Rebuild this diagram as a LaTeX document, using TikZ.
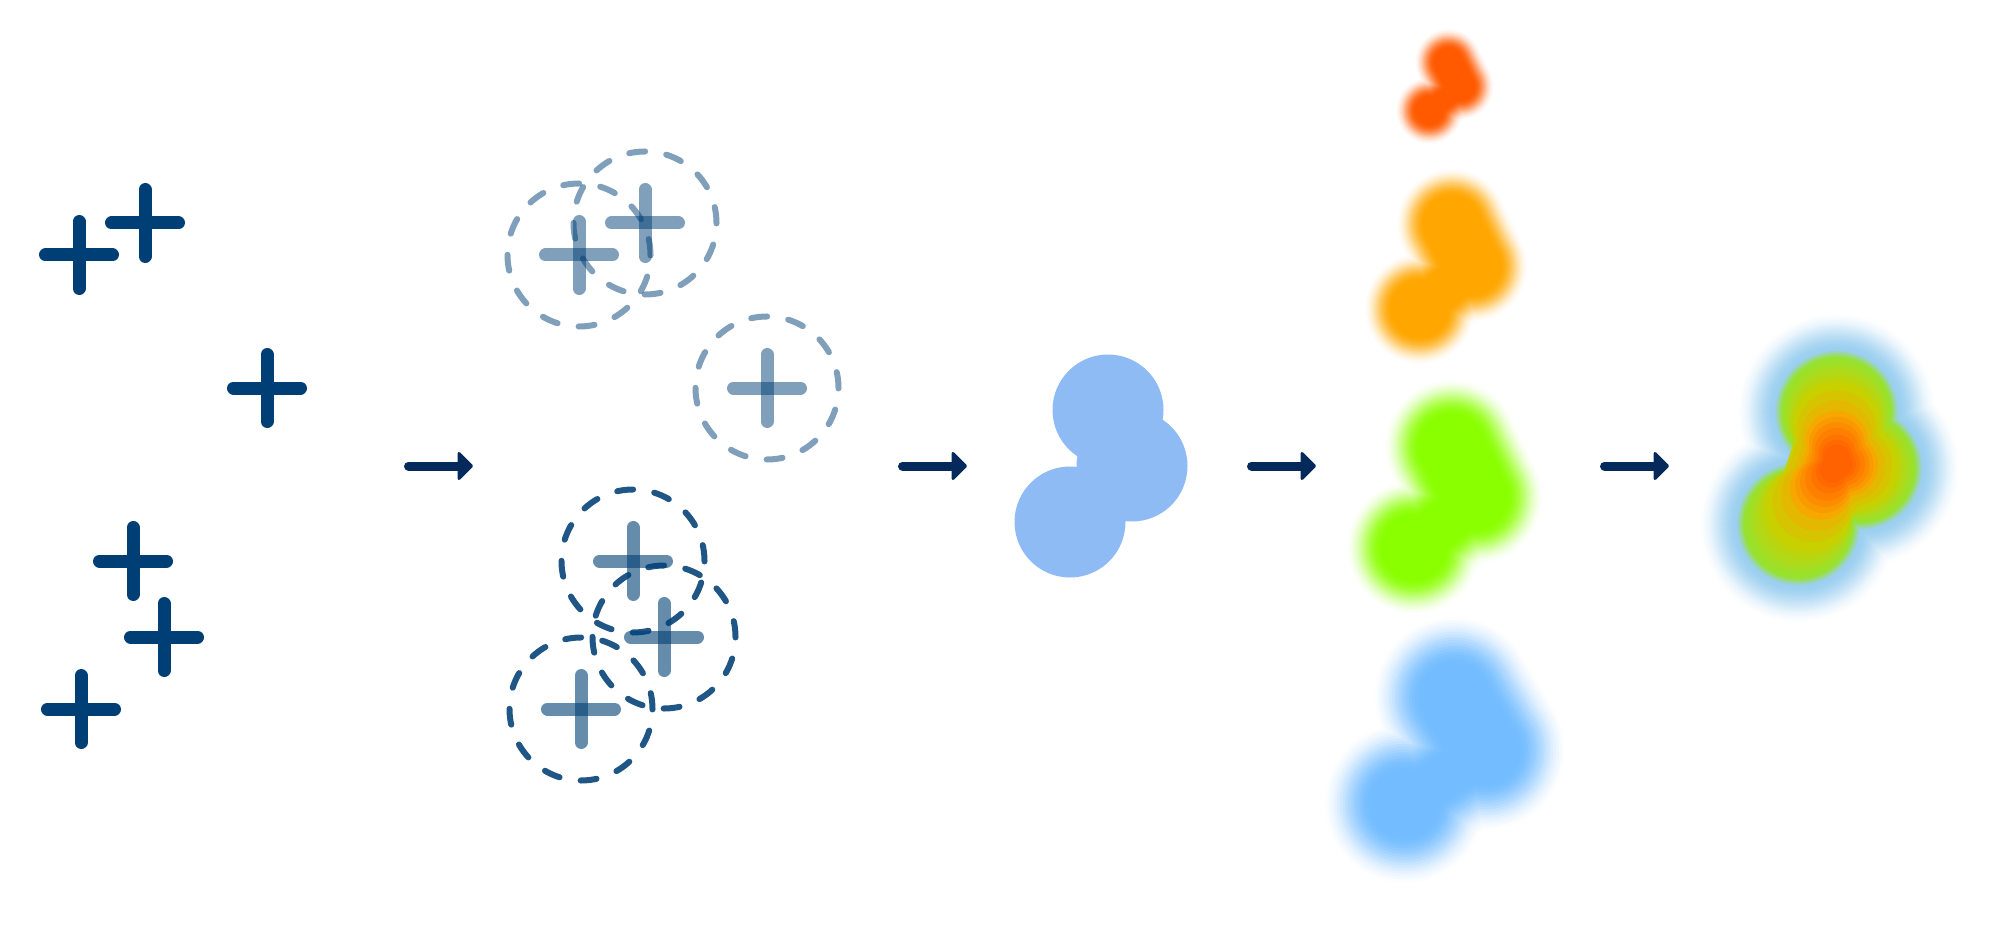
\documentclass[tikz,border=0pt]{standalone}
\usetikzlibrary{calc}
\definecolor{pluscol}{RGB}{0,63,117}
\definecolor{arrcol}{RGB}{4,42,92}
\definecolor{blobblue}{RGB}{143,187,245}
\definecolor{kred}{RGB}{255,90,0}
\definecolor{korange}{RGB}{255,166,0}
\definecolor{kgreen}{RGB}{138,255,0}
\definecolor{kblue}{RGB}{115,188,255}
\definecolor{hblue}{RGB}{155,207,240}
\definecolor{hgreen}{RGB}{152,226,45}
\definecolor{hyellow}{RGB}{200,208,0}
\definecolor{horange}{RGB}{246,168,0}
\definecolor{hredone}{RGB}{255,128,0}
\definecolor{hred}{RGB}{255,98,0}
\tikzset{
  plusbar/.style={line width=13pt, line cap=round, draw=pluscol},
  ringtop/.style={draw=pluscol, opacity=0.5, line width=6pt, line cap=round, dash pattern=on 16pt off 21.4pt},
  ringbot/.style={draw=pluscol, opacity=0.88, line width=6pt, line cap=round, dash pattern=on 16pt off 21.4pt},
  arrline/.style={draw=arrcol, line width=9pt, line cap=round},
  arrhead/.style={fill=arrcol, draw=arrcol, line width=3pt, line join=round},
}
\newcommand\plusat[2]{%
  \draw[plusbar,#2] ($(#1)+(-33.5,0)$) -- ($(#1)+(33.5,0)$);
  \draw[plusbar,#2] ($(#1)+(0,-33.5)$) -- ($(#1)+(0,33.5)$);}
\newcommand\flowarrow[2]{%
  \draw[arrline] (#1) -- ($(#2)+(-14,0)$);
  \filldraw[arrhead] ($(#2)+(-2.5,0)$) -- ($(#2)+(-15,-12.5)$) -- ($(#2)+(-15,12.5)$) -- cycle;}
% three discs of one colour plus bridges (half widths \wab, \wbc, \wac)
\newcommand\tridisc[8]{%
  \fill[fill=#1] (#2,#3) circle[radius=#8 pt] (#4,#5) circle[radius=#8 pt] (#6,#7) circle[radius=#8 pt];
  \ifdim\wab pt>0.1pt \pgfmathsetmacro\lw{2*min(\wab,#8)}\draw[draw=#1,line width=\lw pt] (#2,#3)--(#4,#5);\fi
  \ifdim\wbc pt>0.1pt \pgfmathsetmacro\lw{2*min(\wbc,#8)}\draw[draw=#1,line width=\lw pt] (#4,#5)--(#6,#7);\fi
  \ifdim\wac pt>0.1pt \pgfmathsetmacro\lw{2*min(\wac,#8)}\draw[draw=#1,line width=\lw pt] (#2,#3)--(#6,#7);\fi}
% soft blob: opaque layers mixed with white (background is white)
\newcommand\blurblob[9]{%
  \pgfmathsetmacro\dab{veclen(#4-#2,#5-#3)}%
  \pgfmathsetmacro\dbc{veclen(#6-#4,#7-#5)}%
  \pgfmathsetmacro\dac{veclen(#6-#2,#7-#3)}%
  \pgfmathsetmacro\hab{(#8*#8-\dab*\dab/4>0)?sqrt(abs(#8*#8-\dab*\dab/4)):-1000}%
  \pgfmathsetmacro\hbc{(#8*#8-\dbc*\dbc/4>0)?sqrt(abs(#8*#8-\dbc*\dbc/4)):-1000}%
  \pgfmathsetmacro\hac{(#8*#8-\dac*\dac/4>0)?sqrt(abs(#8*#8-\dac*\dac/4)):-1000}%
  \foreach \k in {1,...,18}{%
    \pgfmathsetmacro\rr{#8+#9-2*#9*(\k-1)/17}%
    \pgfmathsetmacro\wab{\hab-#8+\rr+0.5*#9}%
    \pgfmathsetmacro\wbc{\hbc-#8+\rr+0.5*#9}%
    \pgfmathsetmacro\wac{\hac-#8+\rr+0.5*#9}%
    \pgfmathsetmacro\ub{\k/18}%
    \pgfmathtruncatemacro\P{100*(3*\ub*\ub-2*\ub*\ub*\ub)}%
    \tridisc{#1!\P!white}{#2}{#3}{#4}{#5}{#6}{#7}{\rr}
  }}
% blob from the three-point pattern: colour, cx, cy, sx, sy, r, blur
\newcommand\patblob[7]{%
  \pgfmathsetmacro\pbxa{#2+4.7*#4}\pgfmathsetmacro\pbya{#3-56*#5}%
  \pgfmathsetmacro\pbxb{#2+28.7*#4}\pgfmathsetmacro\pbyb{#3}%
  \pgfmathsetmacro\pbxc{#2-33.3*#4}\pgfmathsetmacro\pbyc{#3+56*#5}%
  \blurblob{#1}{\pbxa}{\pbya}{\pbxb}{\pbyb}{\pbxc}{\pbyc}{#6}{#7}}
% one level of the heat map: colour, spread, radius, bridge factor
\newcommand\heatlayer[4]{%
  \pgfmathsetmacro\hcx{1832+5*(1-#2)}\pgfmathsetmacro\hcy{468-5*(1-#2)}%
  \pgfmathsetmacro\hxa{\hcx+4.7*#2}\pgfmathsetmacro\hya{\hcy-56*#2}%
  \pgfmathsetmacro\hxb{\hcx+28.7*#2}\pgfmathsetmacro\hyb{\hcy}%
  \pgfmathsetmacro\hxc{\hcx-33.3*#2}\pgfmathsetmacro\hyc{\hcy+56*#2}%
  \pgfmathsetmacro\wab{#3*#4}\let\wbc\wab\let\wac\wab
  \tridisc{#1}{\hxa}{\hya}{\hxb}{\hyb}{\hxc}{\hyc}{#3}}
\begin{document}
\begin{tikzpicture}[x=1pt,y=-1pt]
\useasboundingbox (0,0) rectangle (1991,933);
% column 1: points
\coordinate (pA) at (79,255);
\coordinate (pB) at (145,223);
\coordinate (pC) at (267,388);
\coordinate (pD) at (133,561);
\coordinate (pE) at (164,637);
\coordinate (pF) at (81,709);
\foreach \p in {pA,pB,pC,pD,pE,pF}{\plusat{\p}{}}
% column 2: points with kernels
\coordinate (qA) at (579,255);
\coordinate (qB) at (645,223);
\coordinate (qC) at (767,388);
\coordinate (qD) at (633,561);
\coordinate (qE) at (664,637);
\coordinate (qF) at (581,709);
\foreach \p in {qA,qB,qC}{%
  \draw[ringtop] (\p) circle[radius=71.5pt];
  \plusat{\p}{opacity=0.5}}
\foreach \p in {qD,qE,qF}{%
  \draw[ringbot] (\p) circle[radius=71.5pt];
  \plusat{\p}{opacity=0.6}}
% column 3: union of kernels
\fill[blobblue] (1108,410) circle[radius=55.5pt] (1132,466) circle[radius=55.5pt] (1070,522) circle[radius=55.5pt];
% column 4: blurred layers
\patblob{kblue}{1448}{750}{1.3}{0.95}{58}{24}
\patblob{kgreen}{1447}{497}{1.0}{0.901}{50}{18}
\patblob{korange}{1448}{266.5}{0.85}{0.757}{42}{14}
\patblob{kred}{1446}{86.5}{0.5}{0.432}{24}{10}
% column 5: heat map
\foreach \rho in {102,100,...,62}{%
  \pgfmathsetmacro\uu{(102-\rho)/40}%
  \pgfmathtruncatemacro\P{100*(3*\uu*\uu-2*\uu*\uu*\uu)}%
  \heatlayer{hblue!\P!white}{1}{\rho}{0.45}}
\foreach \c/\f/\r/\q in {hblue!75!hgreen/1/61/0.45, hblue!50!hgreen/1/59/0.47, hblue!25!hgreen/1/57/0.49,
  hgreen/1/55/0.5, hgreen!80!hyellow/0.95/52/0.55, hgreen!55!hyellow/0.9/49/0.6, hgreen!30!hyellow/0.82/46.5/0.7,
  hyellow/0.74/44/0.8, hyellow!70!horange/0.64/40/0.85, hyellow!40!horange/0.53/35.5/0.85, horange/0.42/31/0.85,
  horange!65!hredone/0.36/28/0.85, horange!30!hredone/0.31/25/0.85, hredone/0.26/22/0.85,
  hredone!60!hred/0.2/18.5/0.85, hredone!25!hred/0.15/15.5/0.85, hred/0.11/13/0.85}{%
  \heatlayer{\c}{\f}{\r}{\q}}
% arrows
\coordinate (a1s) at (408.5,466); \coordinate (a1t) at (474,466);
\coordinate (a2s) at (902.5,466); \coordinate (a2t) at (968,466);
\coordinate (a3s) at (1251.5,466); \coordinate (a3t) at (1317,466);
\coordinate (a4s) at (1604.5,466); \coordinate (a4t) at (1670,466);
\flowarrow{a1s}{a1t}
\flowarrow{a2s}{a2t}
\flowarrow{a3s}{a3t}
\flowarrow{a4s}{a4t}
\end{tikzpicture}
\end{document}
